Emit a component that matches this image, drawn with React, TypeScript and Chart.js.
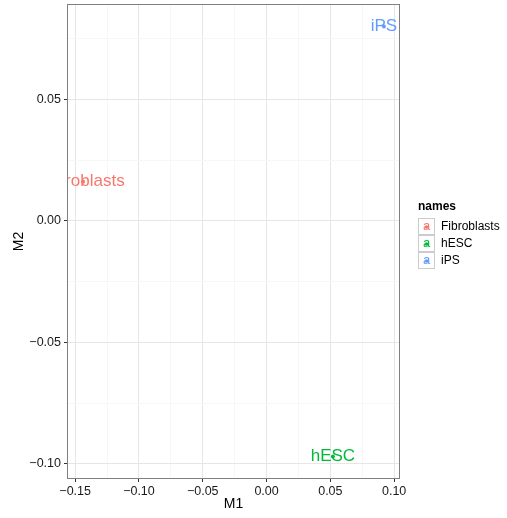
import React, { useEffect, useRef } from "react";
import { Chart, registerables } from "chart.js";

Chart.register(...registerables);

const names = ["Fibroblasts", "hESC", "iPS"];
const m1 = [-0.1438, 0.052, 0.092];
const m2 = [0.0162, -0.097, 0.0801];
const colors = ["#F8766D", "#00BA38", "#619CFF"];

const xTicks = [-0.15, -0.125, -0.1, -0.075, -0.05, -0.025, 0, 0.025, 0.05, 0.075, 0.1];
const yTicks = [-0.1, -0.075, -0.05, -0.025, 0, 0.025, 0.05, 0.075];
const xMajor = [-0.15, -0.1, -0.05, 0, 0.05, 0.1];
const yMajor = [-0.1, -0.05, 0, 0.05];

const FONT = "'Liberation Sans', Arial, Helvetica, sans-serif";

const isMajor = (v: number, majors: number[]) => majors.some((m) => Math.abs(m - v) < 1e-9);
const fmt = (v: number) => v.toFixed(2).replace("-", "\u2212");

export default function App() {
  const ref = useRef<HTMLCanvasElement | null>(null);
  useEffect(() => {
    if (!ref.current) return;
    const labelPlugin = {
      id: "labels",
      afterDatasetsDraw(chart: any) {
        const { ctx, chartArea } = chart;
        ctx.save();
        ctx.beginPath();
        ctx.rect(chartArea.left, chartArea.top, chartArea.right - chartArea.left, chartArea.bottom - chartArea.top);
        ctx.clip();
        ctx.font = `17px ${FONT}`;
        ctx.textAlign = "center";
        ctx.textBaseline = "middle";
        const xs = chart.scales.x;
        const ys = chart.scales.y;
        names.forEach((n, i) => {
          ctx.fillStyle = colors[i];
          ctx.fillText(n, xs.getPixelForValue(m1[i]), ys.getPixelForValue(m2[i]));
        });
        ctx.restore();
      },
      afterDraw(chart: any) {
        const { ctx, chartArea } = chart;
        ctx.save();
        ctx.strokeStyle = "#7f7f7f";
        ctx.lineWidth = 1;
        ctx.strokeRect(chartArea.left - 0.5, chartArea.top - 0.5, chartArea.right - chartArea.left + 1, chartArea.bottom - chartArea.top + 1);
        // legend
        const lx = 418;
        ctx.fillStyle = "#000";
        ctx.font = `bold 12px ${FONT}`;
        ctx.textAlign = "left";
        ctx.textBaseline = "middle";
        ctx.fillText("names", lx, 207);
        names.forEach((n, i) => {
          const by = 218 + i * 17;
          ctx.fillStyle = "#fff";
          ctx.fillRect(lx, by, 17, 17);
          ctx.strokeStyle = "#cccccc";
          ctx.strokeRect(lx + 0.5, by + 0.5, 16, 16);
          ctx.fillStyle = colors[i];
          ctx.font = `13px ${FONT}`;
          ctx.textAlign = "center";
          ctx.fillText("a", lx + 8.5, by + 8.5);
          ctx.beginPath();
          ctx.arc(lx + 8.5, by + 9, 1.8, 0, Math.PI * 2);
          ctx.fill();
          ctx.fillStyle = "#000";
          ctx.font = `12px ${FONT}`;
          ctx.textAlign = "left";
          ctx.fillText(n, lx + 23, by + 8.5);
        });
        ctx.restore();
      },
    };

    const chart = new Chart(ref.current, {
      type: "scatter",
      data: {
        datasets: names.map((n, i) => ({
          label: n,
          data: [{ x: m1[i], y: m2[i] }],
          backgroundColor: colors[i],
          borderColor: colors[i],
          pointRadius: 2,
          borderWidth: 0,
        })),
      },
      options: {
        animation: false,
        responsive: false,
        devicePixelRatio: 1,
        layout: { padding: { top: 5, right: 108, left: 0, bottom: 0 } },
        plugins: { legend: { display: false }, tooltip: { enabled: false } },
        scales: {
          x: {
            type: "linear",
            min: -0.1556,
            max: 0.1038,
            afterBuildTicks: (s: any) => {
              s.ticks = xTicks.map((v) => ({ value: v }));
            },
            afterFit: (s: any) => {
              s.height = 40;
              s.paddingLeft = 0;
              s.paddingRight = 0;
            },
            border: { display: false },
            grid: {
              color: (c: any) => (c.tick && isMajor(c.tick.value, xMajor) ? "#e6e6e6" : "#f7f7f7"),
              tickColor: (c: any) => (c.tick && isMajor(c.tick.value, xMajor) ? "#333333" : "rgba(0,0,0,0)"),
              tickLength: 4,
              lineWidth: 1,
            },
            ticks: {
              autoSkip: false,
              maxRotation: 0,
              padding: 2,
              color: "#1a1a1a",
              font: { family: FONT, size: 12.5 },
              callback: (v: any) => (isMajor(Number(v), xMajor) ? fmt(Number(v)) : ""),
            },
            title: {
              display: true,
              text: "M1",
              color: "#000",
              font: { family: FONT, size: 14 },
              padding: { top: 0, bottom: 5 },
            },
          },
          y: {
            type: "linear",
            min: -0.1059,
            max: 0.089,
            afterBuildTicks: (s: any) => {
              s.ticks = yTicks.map((v) => ({ value: v }));
            },
            afterFit: (s: any) => {
              s.width = 68;
              s.paddingTop = 0;
              s.paddingBottom = 0;
            },
            border: { display: false },
            grid: {
              color: (c: any) => (c.tick && isMajor(c.tick.value, yMajor) ? "#e6e6e6" : "#f7f7f7"),
              tickColor: (c: any) => (c.tick && isMajor(c.tick.value, yMajor) ? "#333333" : "rgba(0,0,0,0)"),
              tickLength: 4,
              lineWidth: 1,
            },
            ticks: {
              autoSkip: false,
              padding: 3,
              color: "#1a1a1a",
              font: { family: FONT, size: 12.5 },
              callback: (v: any) => (isMajor(Number(v), yMajor) ? fmt(Number(v)) : ""),
            },
            title: {
              display: true,
              text: "M2",
              color: "#000",
              font: { family: FONT, size: 14 },
              padding: { top: 11, bottom: 0 },
            },
          },
        },
      },
      plugins: [labelPlugin],
    } as any);
    return () => chart.destroy();
  }, []);

  return (
    <div style={{ position: "absolute", left: 0, top: 0, width: 507, height: 518, background: "#fff" }}>
      <canvas ref={ref} width={507} height={518} style={{ display: "block" }} />
    </div>
  );
}
